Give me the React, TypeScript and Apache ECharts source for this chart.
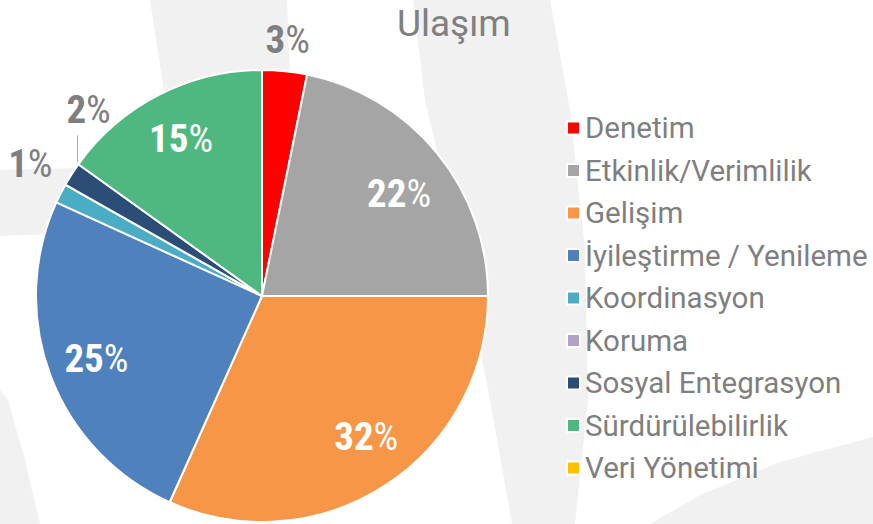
import React, { useEffect, useRef } from "react";
import * as echarts from "echarts";

const titleText = "Ulaşım";
const categories = [
  "Denetim",
  "Etkinlik/Verimlilik",
  "Gelişim",
  "İyileştirme / Yenileme",
  "Koordinasyon",
  "Koruma",
  "Sosyal Entegrasyon",
  "Sürdürülebilirlik",
  "Veri Yönetimi",
];
const values = [3.2, 21.8, 31.7, 25.1, 1.4, 0, 1.7, 15.1, 0];
const colors = [
  "#FF0000",
  "#A5A5A5",
  "#F79646",
  "#4F81BD",
  "#4BACC6",
  "#B1A0C7",
  "#2C4D75",
  "#4FB881",
  "#FFC000",
];

// label placement styles (by category name)
const outsideLabels: Record<string, { len: number; dx: number; dy: number; line?: boolean }> = {
  Denetim: { len: 31, dx: 0, dy: 0 },
  Koordinasyon: { len: 34, dx: 0, dy: -14 },
  "Sosyal Entegrasyon": { len: 0, dx: 17, dy: -64, line: true },
};
const insideNudges: Record<string, { dx: number; dy: number }> = {
  "Etkinlik/Verimlilik": { dx: 0, dy: 10 },
  "Gelişim": { dx: 8, dy: -8 },
};

// faint decorative background shapes
const bgShapes: number[][][] = [
  [[150, 0], [287, 0], [292, 130], [170, 130]],
  [[0, 170], [80, 168], [80, 233], [0, 236]],
  [[0, 390], [8, 400], [25, 460], [40, 524], [0, 524]],
  [[413, 0], [550, 0], [570, 110], [585, 250], [588, 400], [575, 524], [512, 524], [490, 400], [460, 250], [425, 100]],
  [[650, 524], [700, 495], [780, 462], [873, 437], [873, 524]],
];

const CENTER: [number, number] = [262, 296];
const R = 226;
const LABEL_FONT = "'Liberation Sans Narrow', 'Arial Narrow', 'Roboto Condensed', 'Liberation Sans', sans-serif";

export default function App() {
  const ref = useRef<HTMLDivElement>(null);
  useEffect(() => {
    if (!ref.current) return;
    const chart = echarts.init(ref.current, undefined, { renderer: "svg" });
    const rich = {
      n: { fontFamily: LABEL_FONT, fontWeight: "bold", fontSize: 39 },
      p: { fontFamily: LABEL_FONT, fontWeight: "normal", fontSize: 39 },
    };
    const formatter = (p: any) => `{n|${Math.round(p.percent)}}{p|%}`;

    const mainData = categories.map((name, i) => ({
      name,
      value: values[i],
      itemStyle: { color: colors[i] },
    }));

    const labelData = categories.map((name, i) => {
      const o = outsideLabels[name];
      const item: any = { name, value: values[i] };
      if (values[i] === 0) {
        item.label = { show: false };
        item.labelLine = { show: false };
      } else if (o) {
        item.label = { position: "outside", color: "#7F7F7F" };
        item.labelLine = { show: !!o.line, length: o.len, length2: 0 };
      }
      return item;
    });

    chart.setOption({
      animation: false,
      backgroundColor: "#ffffff",
      title: {
        text: titleText,
        left: 397,
        top: 5,
        padding: 0,
        textStyle: { color: "#808080", fontSize: 37, fontWeight: "normal", fontFamily: "Roboto" },
      },
      legend: {
        orient: "vertical",
        left: 561,
        top: 108,
        icon: "rect",
        itemWidth: 13,
        itemHeight: 13,
        itemGap: 12.5,
        selectedMode: false,
        data: categories,
        textStyle: { color: "#7F7F7F", fontSize: 29.5, fontFamily: "Roboto", lineHeight: 30 },
      },
      graphic: bgShapes.map((pts) => ({
        type: "polygon",
        z: -100,
        silent: true,
        shape: { points: pts },
        style: { fill: "#F1F1F1" },
      })),
      series: [
        {
          type: "pie",
          center: CENTER,
          radius: R,
          startAngle: 90,
          clockwise: true,
          avoidLabelOverlap: false,
          label: { show: false },
          labelLine: { show: false },
          emphasis: { disabled: true },
          itemStyle: { borderColor: "#ffffff", borderWidth: 2 },
          data: mainData,
        },
        {
          type: "pie",
          center: CENTER,
          radius: [122, R],
          startAngle: 90,
          clockwise: true,
          silent: true,
          avoidLabelOverlap: false,
          emphasis: { disabled: true },
          itemStyle: { color: "rgba(0,0,0,0)", borderWidth: 0 },
          label: {
            show: true,
            position: "inside",
            color: "#FFFFFF",
            distanceToLabelLine: 0,
            formatter,
            rich,
          },
          labelLine: { show: false, length2: 0, lineStyle: { color: "#A6A6A6", width: 1 } },
          labelLayout: (p: any) => {
            const name = categories[p.dataIndex];
            const o = outsideLabels[name];
            if (!o) {
              const n = insideNudges[name];
              return n ? { dx: n.dx, dy: n.dy } : {};
            }
            const res: any = { align: "center", verticalAlign: "middle", dx: o.dx, dy: o.dy };
            if (o.line && p.labelLinePoints && p.labelLinePoints[0]) {
              const [x0, y0] = p.labelLinePoints[0];
              res.labelLinePoints = [
                [x0 + 6, y0 - 12],
                [x0 + 6, y0 - 25],
                [x0 + 6, y0 - 39],
              ];
            }
            return res;
          },
          data: labelData,
        },
      ],
    });
    return () => chart.dispose();
  }, []);
  return (
    <div
      ref={ref}
      style={{ position: "fixed", left: 0, top: 0, width: 873, height: 524, background: "#fff" }}
    />
  );
}
